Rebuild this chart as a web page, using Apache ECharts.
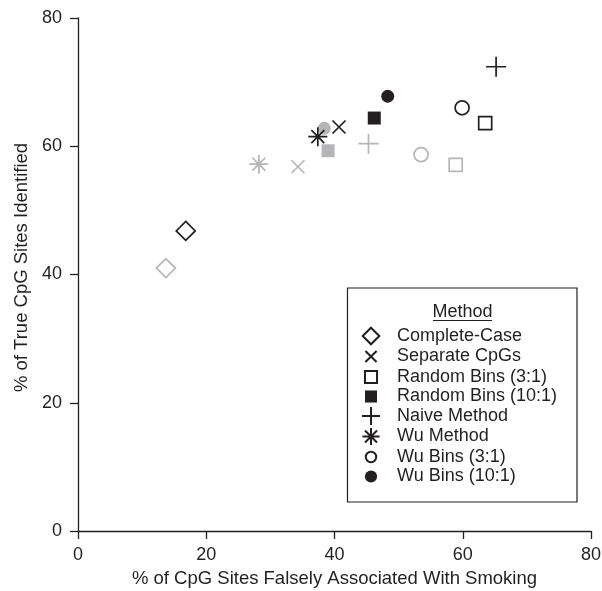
<!DOCTYPE html>
<html>
<head>
<meta charset="utf-8">
<script src="https://cdn.jsdelivr.net/npm/echarts@6/dist/echarts.min.js"></script>
<style>html,body{margin:0;padding:0;background:#fff}#c{width:602px;height:591px}</style>
</head>
<body>
<div id="c"></div>
<script>
const methods = ['Complete-Case','Separate CpGs','Random Bins (3:1)','Random Bins (10:1)','Naive Method','Wu Method','Wu Bins (3:1)','Wu Bins (10:1)'];
// black markers (x = % falsely associated, y = % true identified)
const blackX = [16.8, 40.7, 63.5, 46.2, 65.2, 37.4, 59.9, 48.3];
const blackY = [46.8, 63.0, 63.6, 64.4, 72.4, 61.5, 66.0, 67.8];
// gray markers
const grayX = [13.7, 34.3, 58.9, 39.0, 45.3, 28.2, 53.5, 38.4];
const grayY = [41.0, 56.8, 57.1, 59.3, 60.4, 57.2, 58.7, 62.8];
const xTicks = [0, 20, 40, 60, 80];
const yTicks = [0, 20, 40, 60, 80];

const BLACK = '#231f20', GRAY = '#b6b6b8';
const markers = [
  {symbol:'diamond', size:19, filled:false},
  {symbol:'path://M0,0L10,10M10,0L0,10', size:13, filled:false},
  {symbol:'rect', size:13, filled:false},
  {symbol:'rect', size:13, filled:true},
  {symbol:'path://M5,0L5,10M0,5L10,5', size:20, filled:false},
  {symbol:'path://M5,0L5,10M0,5L10,5M1.6,1.6L8.4,8.4M8.4,1.6L1.6,8.4', size:19, filled:false},
  {symbol:'circle', size:14, filled:false},
  {symbol:'circle', size:13, filled:true}
];
// legend icons drawn in a 20x20 box (corner anchors keep the box size)
const box = 'M0,0L0,0M20,20L20,20';
const legendIcons = [
  'path://' + box + 'M10,0.8L19.2,10L10,19.2L0.8,10Z',
  'path://' + box + 'M3.8,3.8L16.2,16.2M16.2,3.8L3.8,16.2',
  'path://' + box + 'M3.3,3.3L16.7,3.3L16.7,16.7L3.3,16.7Z',
  'path://' + box + 'M3.3,3.3L16.7,3.3L16.7,16.7L3.3,16.7Z',
  'path://' + box + 'M10,0L10,20M0,10L20,10',
  'path://' + box + 'M10,0.5L10,19.5M0.5,10L19.5,10M3.3,3.3L16.7,16.7M16.7,3.3L3.3,16.7',
  'path://' + box + 'M4.2,10A5.8,5.8 0 1,0 15.8,10A5.8,5.8 0 1,0 4.2,10Z',
  'path://' + box + 'M3.2,10A6.8,6.8 0 1,0 16.8,10A6.8,6.8 0 1,0 3.2,10Z'
];
function mk(name, xs, ys, i, col){
  const m = markers[i];
  return {
    type:'scatter', name: name,
    data:[[xs[i], ys[i]]],
    symbol:m.symbol, symbolSize:m.size,
    itemStyle:{
      color: m.filled ? col : 'rgba(255,255,255,0)',
      borderColor: col,
      borderWidth: m.filled ? 0 : 1.7,
      opacity: 1
    },
    emphasis:{disabled:true},
    z: 3
  };
}
const series = [];
methods.forEach((n,i)=>{ series.push(mk(n+' ', grayX, grayY, i, GRAY)); });
methods.forEach((n,i)=>{ series.push(mk(n, blackX, blackY, i, BLACK)); });

const chart = echarts.init(document.getElementById('c'), null, {renderer:'canvas'});
const font = 'Liberation Sans, Arial, sans-serif';
chart.setOption({
  animation:false,
  backgroundColor:'#fff',
  textStyle:{fontFamily:font},
  grid:{left:78, right:11, top:18, bottom:60, containLabel:false, outerBoundsMode:'none'},
  xAxis:{
    type:'value', min:xTicks[0], max:xTicks[xTicks.length-1], interval:20,
    name:'% of CpG Sites Falsely Associated With Smoking',
    nameLocation:'middle', nameGap:38,
    nameTextStyle:{fontSize:18.5, color:BLACK, fontFamily:font},
    axisLine:{show:true, onZero:false, lineStyle:{color:BLACK, width:1.3}},
    axisTick:{show:true, length:8, lineStyle:{color:BLACK, width:1.3}},
    axisLabel:{fontSize:18, color:BLACK, margin:15, fontFamily:font},
    splitLine:{show:false}
  },
  yAxis:{
    type:'value', min:yTicks[0], max:yTicks[yTicks.length-1], interval:20,
    name:'% of True CpG Sites Identified',
    nameLocation:'middle', nameGap:47,
    nameTextStyle:{fontSize:18.5, color:BLACK, fontFamily:font, padding:[0,0,0,14]},
    axisLine:{show:true, onZero:false, lineStyle:{color:BLACK, width:1.3}},
    axisTick:{show:true, length:8, lineStyle:{color:BLACK, width:1.3}},
    axisLabel:{fontSize:18, color:BLACK, margin:16, fontFamily:font},
    splitLine:{show:false}
  },
  legend:{
    data: methods.map((n,i)=>({name:n, icon:legendIcons[i]})),
    orient:'vertical', left:361, top:326,
    itemWidth:18, itemHeight:18, itemGap:0.5,
    padding:0,
    selectedMode:false,
    textStyle:{fontSize:18, color:BLACK, fontFamily:font, padding:[0,0,0,12]},
    z: 10
  },
  graphic:[
    {type:'rect', z:1, shape:{x:347.5, y:288, width:229.5, height:214},
     style:{fill:'#fff', stroke:BLACK, lineWidth:1.2}},
    {type:'text', z:2, x:462.5, y:312, style:{text:'Method', fill:BLACK, font:'18px '+font, textAlign:'center', textVerticalAlign:'middle'}},
    {type:'line', z:2, shape:{x1:433, y1:320.5, x2:492, y2:320.5}, style:{stroke:BLACK, lineWidth:1.1}}
  ],
  series: series
});
</script>
</body>
</html>
